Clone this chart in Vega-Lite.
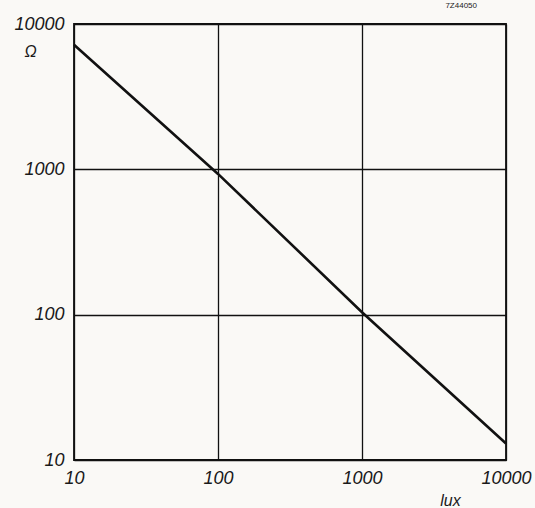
{
  "$schema": "https://vega.github.io/schema/vega-lite/v6.json",
  "autosize": "none",
  "width": 432,
  "height": 436,
  "padding": {"left": 74, "top": 24, "right": 29, "bottom": 48},
  "background": "#faf9f6",
  "title": {"text": "7Z44050", "anchor": "end", "frame": "group", "fontSize": 8, "fontWeight": "normal", "font": "Liberation Sans", "color": "#222", "dx": -29, "offset": 5},
  "config": {
    "view": {"stroke": "#111", "strokeWidth": 1.8},
    "axis": {"labelFont": "Liberation Sans", "labelFontStyle": "italic", "labelFontSize": 18, "labelColor": "#1a1a1a", "titleFont": "Liberation Sans", "titleFontStyle": "italic", "titleFontWeight": "normal", "titleColor": "#1a1a1a", "ticks": false, "domain": false, "grid": true, "gridColor": "#111", "gridOpacity": 1, "gridWidth": 1.3}
  },
  "data": {"values": [
    {"lux": 10, "ohm": 7200},
    {"lux": 100, "ohm": 930},
    {"lux": 1000, "ohm": 104},
    {"lux": 10000, "ohm": 13}
  ]},
  "mark": {"type": "line", "color": "#111", "strokeWidth": 2.6},
  "encoding": {
    "x": {"field": "lux", "type": "quantitative", "scale": {"type": "log", "domain": [10, 10000], "nice": false},
      "axis": {"values": [10, 100, 1000, 10000], "format": "d", "labelPadding": 9, "labelFlush": false, "title": "lux", "titleFontSize": 16, "titleX": 376, "titleY": 40, "titleAnchor": "middle", "titleBaseline": "middle"}},
    "y": {"field": "ohm", "type": "quantitative", "scale": {"type": "log", "domain": [10, 10000], "nice": false},
      "axis": {"values": [10, 100, 1000, 10000], "format": "d", "labelPadding": 10, "labelFlush": false, "title": "Ω", "titleFontSize": 16, "titleAngle": 0, "titleX": -44, "titleY": 27, "titleAlign": "center", "titleBaseline": "middle"}}
  }
}
